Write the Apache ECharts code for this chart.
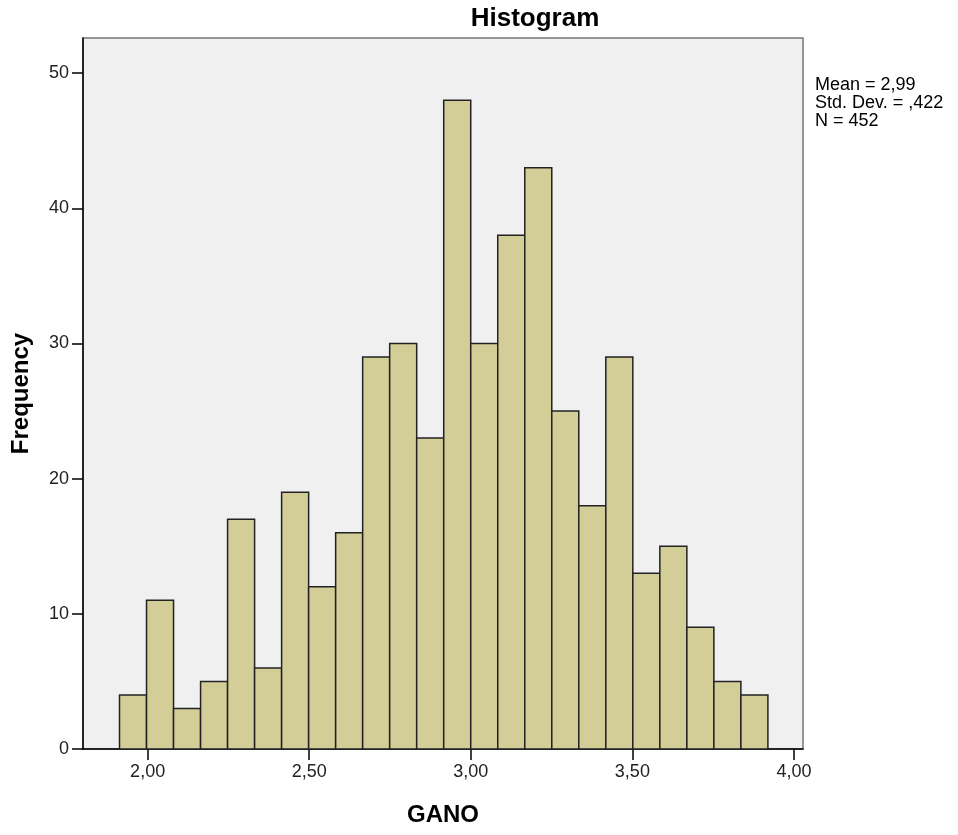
<!DOCTYPE html>
<html>
<head>
<meta charset="utf-8">
<title>Histogram</title>
<script src="https://cdn.jsdelivr.net/npm/echarts@6/dist/echarts.min.js"></script>
<style>
  html, body { margin: 0; padding: 0; background: #fff; }
  #chart { width: 958px; height: 835px; }
</style>
</head>
<body>
<div id="chart"></div>
<script>
// frequency per bin (N = 452)
var counts = [4, 11, 3, 5, 17, 6, 19, 12, 16, 29, 30, 23, 48, 30, 38, 43, 25, 18, 29, 13, 15, 9, 5, 4];
var binStart = 1.913;
var binWidth = 0.0836;
var xTicks = [2, 2.5, 3, 3.5, 4];
var yTicks = [0, 10, 20, 30, 40, 50];
var statsLines = ['Mean = 2,99', 'Std. Dev. = ,422', 'N = 452'];

var font = '"Liberation Sans", Arial, sans-serif';

var bins = counts.map(function (c, i) {
  var lo = binStart + i * binWidth;
  return [lo, lo + binWidth, c];
});

function fmtComma(v) {
  return v.toFixed(2).replace('.', ',');
}

var myChart = echarts.init(document.getElementById('chart'));
var option = {
  backgroundColor: '#fff',
  animation: false,
  title: {
    text: 'Histogram',
    left: 530,
    top: 1,
    textAlign: 'center',
    textStyle: { fontFamily: font, fontSize: 26, fontWeight: 'bold', color: '#000' }
  },
  grid: {
    left: 83,
    right: 155,
    top: 38,
    bottom: 86,
    show: true,
    backgroundColor: '#f0f0f0',
    borderColor: '#777',
    borderWidth: 1.5
  },
  xAxis: {
    type: 'value',
    min: 1.8,
    max: 4.028,
    name: 'GANO',
    nameLocation: 'middle',
    nameGap: 54,
    nameTextStyle: { fontFamily: font, fontSize: 24, fontWeight: 'bold', color: '#000' },
    axisLine: { show: true, lineStyle: { color: '#000', width: 1.5 } },
    axisTick: { show: true, length: 11, customValues: xTicks, lineStyle: { color: '#000', width: 1.5 } },
    axisLabel: {
      customValues: xTicks,
      margin: 14,
      fontFamily: font,
      fontSize: 18,
      color: '#222',
      formatter: fmtComma
    },
    splitLine: { show: false }
  },
  yAxis: {
    type: 'value',
    min: 0,
    max: 52.6,
    name: 'Frequency',
    nameLocation: 'middle',
    nameGap: 50,
    nameTextStyle: { fontFamily: font, fontSize: 24, fontWeight: 'bold', color: '#000' },
    axisLine: { show: true, lineStyle: { color: '#000', width: 1.5 } },
    axisTick: { show: true, length: 11, customValues: yTicks, lineStyle: { color: '#000', width: 1.5 } },
    axisLabel: {
      customValues: yTicks,
      margin: 14,
      fontFamily: font,
      fontSize: 18,
      color: '#222'
    },
    splitLine: { show: false }
  },
  graphic: [
    {
      type: 'text',
      left: 815,
      top: 76,
      style: {
        text: statsLines.join('\n'),
        font: '18px ' + font,
        lineHeight: 18,
        fill: '#000'
      }
    }
  ],
  series: [
    {
      type: 'custom',
      data: bins,
      encode: { x: [0, 1], y: 2 },
      renderItem: function (params, api) {
        var p0 = api.coord([api.value(0), 0]);
        var p1 = api.coord([api.value(1), api.value(2)]);
        return {
          type: 'rect',
          shape: { x: p0[0], y: p1[1], width: p1[0] - p0[0], height: p0[1] - p1[1] },
          style: { fill: '#d3ce97', stroke: '#222', lineWidth: 1.5 }
        };
      }
    }
  ]
};

option && myChart.setOption(option);
</script>
</body>
</html>
